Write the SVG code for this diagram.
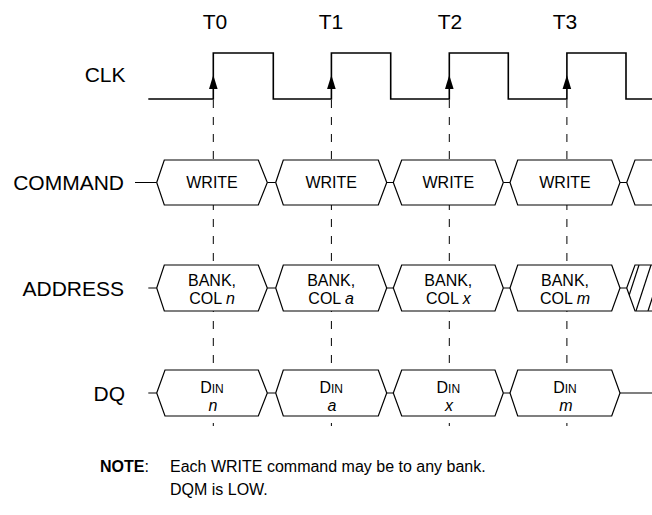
<svg xmlns="http://www.w3.org/2000/svg" width="652" height="515" viewBox="0 0 652 515">
<style>
text{font-family:"Liberation Sans",Arial,Helvetica,sans-serif;fill:#000}
.lbl{font-size:21px;text-anchor:end}
.tl{font-size:21px;text-anchor:middle}
.bx{fill:#fff;stroke:#000;stroke-width:1.2}
.bt{font-size:16px;text-anchor:middle}
.sig{fill:none;stroke:#000;stroke-width:1.2}
.clk{fill:none;stroke:#000;stroke-width:1.6}
.dash{fill:none;stroke:#000;stroke-width:1;stroke-dasharray:8 9}
.note{font-size:16px}
</style>
<defs>
<path id="arr" d="M0,0 L-4.3,14 L4.3,14 Z" fill="#000"/>
<clipPath id="hc"><polygon points="626.7,288 635,265 652,265 652,311 635,311"/></clipPath>
</defs>

<g id="connectors">
<line class="dash" x1="213.3" y1="100" x2="213.3" y2="426"/>
<line class="dash" x1="331.4" y1="100" x2="331.4" y2="426"/>
<line class="dash" x1="449.3" y1="100" x2="449.3" y2="426"/>
<line class="dash" x1="566.9" y1="100" x2="566.9" y2="426"/>
<path class="sig" d="M135,182.5 H156.7 M267.3,182.5 H275.7 M386.7,182.5 H393.3 M503.3,182.5 H510 M620,182.5 H626.7"/>
<path class="sig" d="M148.3,288 H156.7 M267.3,288 H275.7 M386.7,288 H393.3 M503.3,288 H510 M620,288 H626.7"/>
<path class="sig" d="M148.3,393 H156.7 M267.3,393 H275.7 M386.7,393 H393.3 M503.3,393 H510 M620,393 H652"/>
</g>

<g id="labels">
<text class="lbl" x="125.5" y="81.5">CLK</text>
<text class="lbl" x="124" y="190">COMMAND</text>
<text class="lbl" x="124" y="296">ADDRESS</text>
<text class="lbl" x="125" y="401">DQ</text>
<text class="tl" x="215" y="29">T0</text>
<text class="tl" x="331" y="29">T1</text>
<text class="tl" x="450" y="29">T2</text>
<text class="tl" x="565" y="29">T3</text>
</g>

<g id="clk">
<path class="clk" d="M148.3,99 H213.3 V53 H273.3 V99 H331.4 V53 H390.7 V99 H449.3 V53 H508.3 V99 H566.9 V53 H626 V99 H652"/>
<use href="#arr" x="213.3" y="75"/>
<use href="#arr" x="331.4" y="75"/>
<use href="#arr" x="449.3" y="75"/>
<use href="#arr" x="566.9" y="75"/>
</g>

<g id="cmd0"><polygon class="bx" points="156.7,182.5 164.3,160 258.3,160 267.3,182.5 258.3,205 164.3,205"/><text class="bt" x="212" y="188.3">WRITE</text></g>
<g id="cmd1"><polygon class="bx" points="275.7,182.5 283.3,160 378.3,160 386.7,182.5 378.3,205 283.3,205"/><text class="bt" x="331.2" y="188.3">WRITE</text></g>
<g id="cmd2"><polygon class="bx" points="393.3,182.5 401.7,160 495,160 503.3,182.5 495,205 401.7,205"/><text class="bt" x="448.3" y="188.3">WRITE</text></g>
<g id="cmd3"><polygon class="bx" points="510,182.5 517.7,160 611.7,160 620,182.5 611.7,205 517.7,205"/><text class="bt" x="565" y="188.3">WRITE</text></g>
<g id="cmd4"><path class="sig" d="M653,160 H635 L626.7,182.5 L635,205 H653"/></g>

<g id="addr0"><polygon class="bx" points="156.7,288 164.3,265 258.3,265 267.3,288 258.3,311 164.3,311"/><text class="bt" x="212" y="286">BANK,</text><text class="bt" x="212" y="304">COL <tspan font-style="italic">n</tspan></text></g>
<g id="addr1"><polygon class="bx" points="275.7,288 283.3,265 378.3,265 386.7,288 378.3,311 283.3,311"/><text class="bt" x="331.2" y="286">BANK,</text><text class="bt" x="331.2" y="304">COL <tspan font-style="italic">a</tspan></text></g>
<g id="addr2"><polygon class="bx" points="393.3,288 401.7,265 495,265 503.3,288 495,311 401.7,311"/><text class="bt" x="448.3" y="286">BANK,</text><text class="bt" x="448.3" y="304">COL <tspan font-style="italic">x</tspan></text></g>
<g id="addr3"><polygon class="bx" points="510,288 517.7,265 611.7,265 620,288 611.7,311 517.7,311"/><text class="bt" x="565" y="286">BANK,</text><text class="bt" x="565" y="304">COL <tspan font-style="italic">m</tspan></text></g>
<g id="addr4">
<g clip-path="url(#hc)" stroke="#000" stroke-width="1.2">
<line x1="624" y1="311" x2="639" y2="265"/>
<line x1="636" y1="311" x2="651" y2="265"/>
<line x1="648" y1="311" x2="663" y2="265"/>
</g>
<path class="sig" d="M653,265 H635 L626.7,288 L635,311 H653"/>
</g>

<g id="dq0"><polygon class="bx" points="156.7,393 165,370 258.3,370 267.3,393 258.3,416 165,416"/><text class="bt" x="212" y="393">D<tspan font-size="12px">IN</tspan></text><text class="bt" x="213" y="411" font-style="italic">n</text></g>
<g id="dq1"><polygon class="bx" points="275.7,393 283.3,370 378.3,370 386.7,393 378.3,416 283.3,416"/><text class="bt" x="331.2" y="393">D<tspan font-size="12px">IN</tspan></text><text class="bt" x="332" y="411" font-style="italic">a</text></g>
<g id="dq2"><polygon class="bx" points="393.3,393 401.7,370 495,370 503.3,393 495,416 401.7,416"/><text class="bt" x="448.3" y="393">D<tspan font-size="12px">IN</tspan></text><text class="bt" x="449" y="411" font-style="italic">x</text></g>
<g id="dq3"><polygon class="bx" points="510,393 517.7,370 611.7,370 620,393 611.7,416 517.7,416"/><text class="bt" x="565" y="393">D<tspan font-size="12px">IN</tspan></text><text class="bt" x="566" y="411" font-style="italic">m</text></g>

<g id="note">
<text class="note" x="100" y="472"><tspan font-weight="bold">NOTE</tspan>:</text>
<text class="note" x="170" y="472">Each WRITE command may be to any bank.</text>
<text class="note" x="170" y="495">DQM is LOW.</text>
</g>
</svg>
